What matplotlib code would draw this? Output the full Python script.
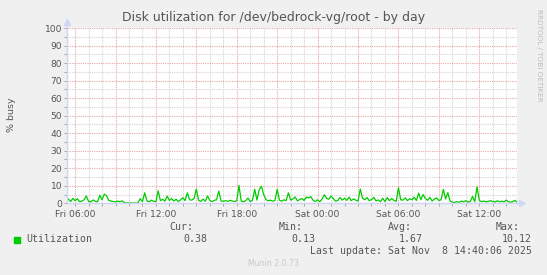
# munin style disk utilization graph (by day)
import matplotlib
matplotlib.use('agg')
import matplotlib.pyplot as plt
from matplotlib.lines import Line2D
import numpy as np

# ---- data ----------------------------------------------------------
# 10 minute samples, hours counted from Fri 00:00, first sample at 05:20
start_hour = 5 + 20 / 60
step_hour = 10 / 60
utilization = [
    1.2, 2.5, 1.0, 2.8,                      # 05:20 .. 05:50
    1.5, 2.6, 0.9, 1.2, 2.0, 4.2,            # 06
    1.0, 0.8, 1.9, 1.1, 0.9, 4.6,            # 07
    2.0, 5.2, 4.3, 1.6, 1.3, 1.0,            # 08
    0.8, 1.2, 0.9, 1.4, 0.3, 0.2,            # 09
    0.2, 0.15, 0.2, 0.13, 0.2, 2.6,          # 10
    1.0, 6.0, 1.3, 0.9, 1.8, 1.1,            # 11
    1.0, 7.1, 1.5, 2.3, 1.2, 4.1,            # 12
    1.6, 2.7, 1.3, 2.3, 1.0, 2.0,            # 13
    3.2, 1.5, 6.0, 2.0, 1.8, 2.8,            # 14
    8.1, 1.6, 1.1, 2.4, 1.2, 4.2,            # 15
    1.5, 1.0, 1.7, 2.0, 7.0, 1.3,            # 16
    1.2, 1.5, 1.1, 1.7, 1.3, 1.0,            # 17
    1.4, 10.12, 1.2, 0.9, 1.5, 3.0,          # 18
    1.0, 1.7, 8.0, 1.8, 7.8, 9.8,            # 19
    5.0, 2.1, 1.4, 1.8, 1.2, 1.6,            # 20
    8.0, 1.8, 1.2, 2.0, 1.5, 6.0,            # 21
    1.8, 2.5, 3.6, 1.4, 2.1, 2.7,            # 22
    1.6, 3.5, 3.1, 3.8, 1.7, 1.0,            # 23
    2.0, 0.9, 2.5, 4.9, 2.9, 2.3,            # Sat 00
    4.1, 2.7, 1.2, 1.6, 3.3, 1.8,            # 01
    2.9, 1.7, 3.5, 1.5, 2.5, 1.8,            # 02
    1.3, 8.1, 3.0, 2.0, 3.3, 1.5,            # 03
    2.1, 3.4, 1.4, 1.9, 0.9, 2.9,            # 04
    1.0, 3.3, 1.5, 2.7, 1.7, 1.1,            # 05
    8.9, 2.0, 1.8, 3.1, 1.5, 2.6,            # 06
    2.0, 3.5, 1.6, 5.8, 2.1, 5.0,            # 07
    2.7, 1.7, 3.4, 1.3, 2.4, 3.1,            # 08
    1.6, 2.0, 7.9, 2.5, 6.1, 1.3,            # 09
    0.7, 0.4, 1.0, 0.5, 1.3, 0.8,            # 10
    1.5, 0.6, 1.1, 4.0, 0.9, 9.4,            # 11
    1.7, 0.9, 1.3, 0.8, 1.1, 1.5,            # 12
    1.0, 0.7, 1.4, 0.9, 1.2, 0.8,            # 13
    1.8, 0.9, 0.6, 1.0, 1.7, 0.38,           # 14
]
times = start_hour + step_hour * np.arange(len(utilization))

tick_hours = [6, 12, 18, 24, 30, 36]
tick_labels = ['Fri 06:00', 'Fri 12:00', 'Fri 18:00',
               'Sat 00:00', 'Sat 06:00', 'Sat 12:00']

stat_names = ['Cur:', 'Min:', 'Avg:', 'Max:']
stat_values = ['0.38', '0.13', '1.67', '10.12']
last_update = 'Last update: Sat Nov  8 14:40:06 2025'

# ---- style -----------------------------------------------------------
W, H = 547, 275
bg = '#F0F0F0'
txt = '#555555'
axis_col = '#CFD6F8'
major_col = '#E8A8A8'
minor_col = '#D4D4D4'
mono = 'DejaVu Sans Mono'


def fx(px):
    return px / W


def fy(py):
    return 1 - py / H


fig = plt.figure(figsize=(W / 100, H / 100), dpi=100, facecolor=bg)
left, right, top, bottom = 67, 517, 28, 203.3
ax = fig.add_axes([fx(left), fy(bottom), fx(right - left), (bottom - top) / H])
ax.set_facecolor('white')

ax.set_xlim(5.4, 38.8)
ax.set_ylim(0, 100)

# grid: red every 10 / 3 hours, grey every 5 / 1 hour
ax.set_yticks(np.arange(0, 101, 10))
ax.set_yticks(np.arange(0, 101, 5), minor=True)
ax.set_xticks(np.arange(6, 39, 3))
ax.set_xticks(np.arange(6, 39, 1), minor=True)
ax.set_xticklabels([tick_labels[tick_hours.index(h)] if h in tick_hours else ''
                    for h in np.arange(6, 39, 3)])
ax.grid(which='minor', color=minor_col, linestyle=(0, (1, 1)), linewidth=0.8)
ax.grid(which='major', color=major_col, linestyle=(0, (1, 1)), linewidth=0.8)
ax.set_axisbelow(True)

ax.tick_params(axis='both', which='both', colors='#999999', length=2,
               width=0.6, labelcolor=txt, labelsize=6.6, pad=1.5)
ax.tick_params(axis='x', which='major', pad=2.5)

for s in ax.spines.values():
    s.set_visible(False)

# the data
ax.plot(times, utilization, color='#00CC00', linewidth=0.9, zorder=3)

# axis lines with arrows (drawn in figure pixels)
fig.add_artist(Line2D([fx(left), fx(left)], [fy(bottom), fy(21)],
                      color=axis_col, linewidth=1.0))
fig.add_artist(Line2D([fx(left), fx(521)], [fy(bottom), fy(bottom)],
                      color=axis_col, linewidth=1.0, zorder=2))
fig.add_artist(Line2D([fx(left)], [fy(22)], marker='^', markersize=4.5,
                      color=axis_col, linestyle='none'))
fig.add_artist(Line2D([fx(522)], [fy(bottom)], marker='>', markersize=4.5,
                      color=axis_col, linestyle='none'))

# texts
fig.text(fx(273.5), fy(18), 'Disk utilization for /dev/bedrock-vg/root - by day',
         ha='center', va='center', fontsize=9.0, color=txt)
fig.text(fx(11), fy(115), '% busy', rotation=90, ha='center', va='center',
         fontsize=6.8, color=txt)
fig.text(fx(539), fy(55), 'RRDTOOL / TOBI OETIKER', rotation=270,
         ha='center', va='center', fontsize=5.2, color='#BBBBBB')

fig.patches.append(plt.Rectangle((fx(14), fy(242.5)), fx(6), 6 / H,
                                 transform=fig.transFigure, color='#00CC00'))
fig.text(fx(26), fy(239.5), 'Utilization', ha='left', va='center',
         fontsize=7.1, color=txt, family=mono)

name_right = [193, 303, 412, 520]
value_right = [207, 315, 423, 532]
for name, value, nx, vx in zip(stat_names, stat_values, name_right, value_right):
    fig.text(fx(nx), fy(227.5), name, ha='right', va='center',
             fontsize=7.1, color=txt, family=mono)
    fig.text(fx(vx), fy(239.5), value, ha='right', va='center',
             fontsize=7.1, color=txt, family=mono)
fig.text(fx(532), fy(251), last_update, ha='right', va='center',
         fontsize=7.1, color=txt, family=mono)

fig.text(fx(273), fy(264), 'Munin 2.0.73', ha='center', va='center',
         fontsize=5.6, color='#C8C8C8')

fig.savefig('out.png', dpi=100, facecolor=bg)
